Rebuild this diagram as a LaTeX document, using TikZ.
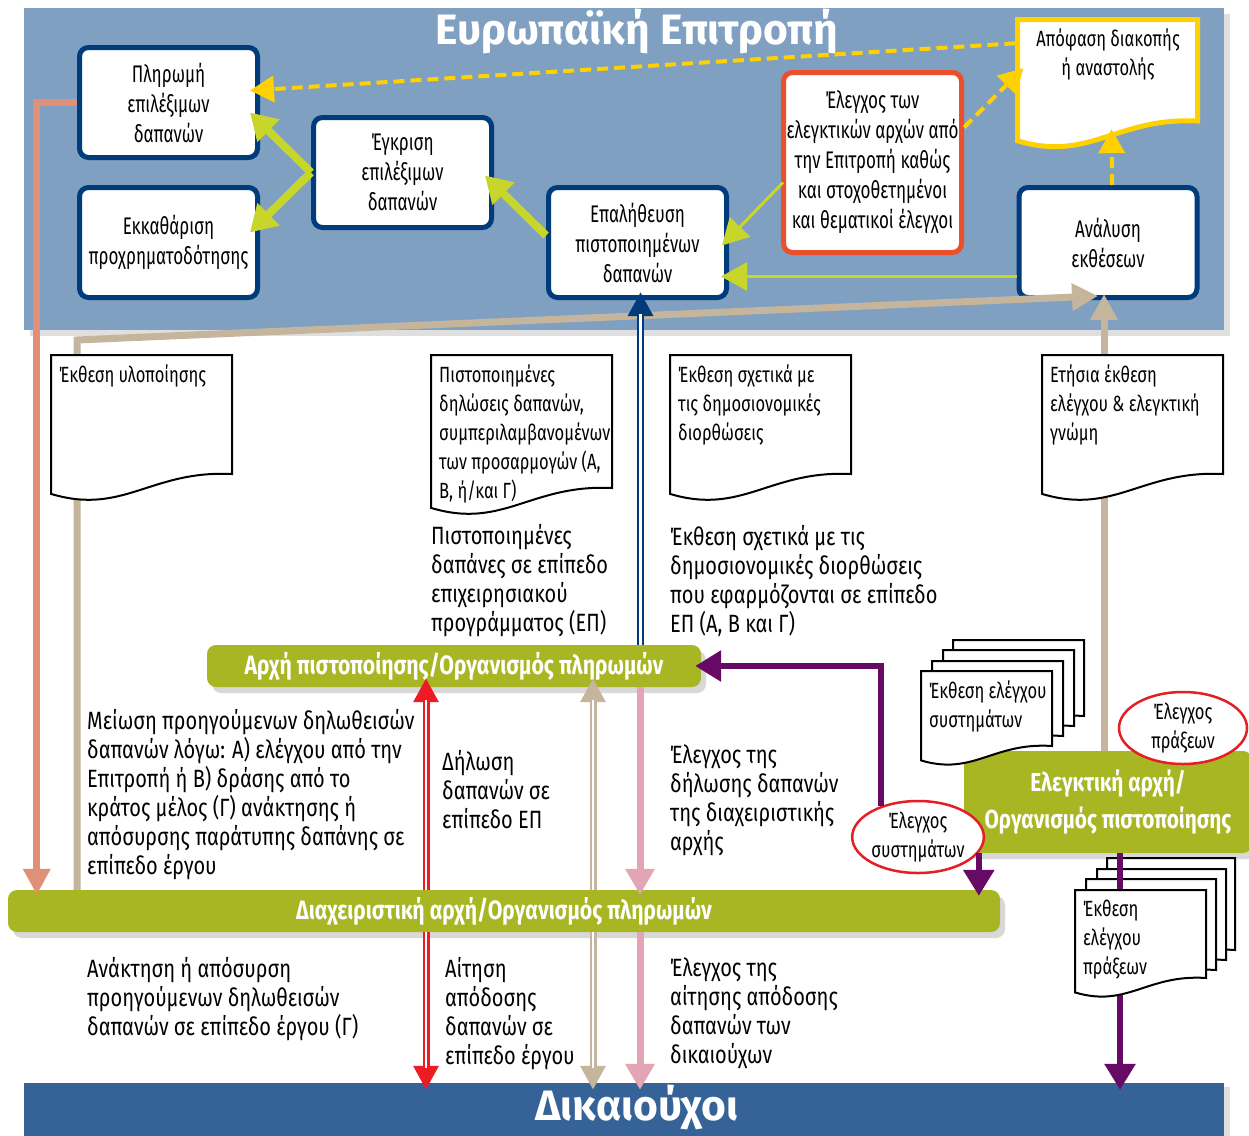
\documentclass[tikz,border=0pt]{standalone}
\usepackage{fontspec}
\setmainfont{Fira Sans}[FakeStretch=0.8]
\newfontfamily\headfont{Fira Sans}
\newfontfamily\boxface{Fira Sans}[FakeStretch=0.71]
\newfontfamily\docface{Fira Sans}[FakeStretch=0.75]
\usetikzlibrary{arrows.meta,shapes.geometric,shadows,calc}

\definecolor{panelblue}{RGB}{127,160,193}
\definecolor{boxnavy}{RGB}{0,59,123}
\definecolor{limegreen}{RGB}{200,214,43}
\definecolor{signyellow}{RGB}{255,209,0}
\definecolor{auditred}{RGB}{233,80,43}
\definecolor{sandtan}{RGB}{197,181,156}
\definecolor{salmon}{RGB}{224,144,120}
\definecolor{bargreen}{RGB}{169,182,36}
\definecolor{rosepink}{RGB}{227,165,182}
\definecolor{plum}{RGB}{102,10,102}
\definecolor{flagred}{RGB}{237,28,36}
\definecolor{benefblue}{RGB}{53,99,152}
\definecolor{ringred}{RGB}{227,30,36}

\newcommand{\boxfont}{\boxface\fontsize{24}{30}\selectfont}
\newcommand{\lblfont}{\fontsize{25}{29}\selectfont}
\newcommand{\docfont}{\docface\fontsize{22}{29}\selectfont}
\newcommand{\barfont}{\bfseries\fontsize{26.5}{30}\selectfont}
\newcommand{\bigbarfont}{\bfseries\fontsize{26}{37}\selectfont}
\newcommand{\headtitle}{\headfont\bfseries\fontsize{42.5}{46}\selectfont}

% sheet with a wavy lower edge: style, name, left, top, right, bottom, text
\newcommand{\docsheet}[7][docline]{%
  \draw[#1] (#3,#4) -- (#5,#4) -- (#5,#6)
    .. controls ({#5-0.45*(#5-#3)},{#6-4}) and ({#3+0.4*(#5-#3)},{#6+0.23*(#5-#3)})
    .. (#3,{#6+0.11*(#5-#3)}) -- cycle;
  \node[inner sep=0pt, minimum width={#5-#3}, minimum height={#6-#4}] (#2) at ({(#3+#5)/2},{(#4+#6)/2}) {};
  \node[doctext, anchor=north west] (#2-txt) at ({#3+8},{#4+10}) {#7};}

% arrow drawn as a double line: colour, from, to
\newcommand{\dblarrow}[3]{%
  \draw[draw=#1, line width=7pt, -{Triangle[length=24pt,width=24pt]}] #2 -- #3;
  \draw[white, line width=2.2pt, shorten >=22pt] #2 -- #3;}

\tikzset{
  stagebox/.style={draw=boxnavy, line width=5pt, fill=white, rounded corners=9pt,
    minimum width=178pt, minimum height=110pt, align=center, font=\boxfont, inner sep=2pt},
  docline/.style={draw=black, line width=2pt, fill=white},
  decline/.style={draw=signyellow, line width=5pt, fill=white},
  doctext/.style={align=left, font=\docfont, inner sep=0pt},
  flowlabel/.style={align=left, font=\lblfont, anchor=north west, inner sep=0pt},
  greenbar/.style={fill=bargreen, rounded corners=9pt, text=white, font=\barfont,
    drop shadow={shadow xshift=5pt, shadow yshift=-6pt, opacity=0.3}},
  checkring/.style={ellipse, draw=ringred, line width=2.5pt, fill=white,
    minimum width=128pt, minimum height=72pt, align=center, font=\docfont, inner sep=0pt},
  limearrow/.style={draw=limegreen, line width=8pt, -{Triangle[length=26pt,width=30pt]}},
  thinlime/.style={draw=limegreen, line width=3pt, -{Triangle[length=26pt,width=28pt]}},
  dashyellow/.style={draw=signyellow, line width=4pt, dash pattern=on 11pt off 6pt,
    -{Triangle[length=24pt,width=26pt]}},
  tanline/.style={draw=sandtan, line width=7pt, -{Triangle[length=26pt,width=26pt]}},
  salmonline/.style={draw=salmon, line width=7pt, -{Triangle[length=26pt,width=26pt]}},
  pinkline/.style={draw=rosepink, line width=7pt, -{Triangle[length=26pt,width=28pt]}},
  plumline/.style={draw=plum, line width=6pt, -{Triangle[length=26pt,width=30pt]}}
}

\begin{document}
\begin{tikzpicture}[x=1pt,y=-1pt]
  \useasboundingbox (0,0) rectangle (1249,1135);
  \fill[white] (0,0) rectangle (1249,1135);

  % Commission panel
  \node[fill=panelblue, inner sep=0pt, minimum width=1200pt, minimum height=322pt,
    drop shadow={shadow xshift=6pt, shadow yshift=-6pt, opacity=0.25}] (ec) at (624,169) {};
  \node[text=white, font=\headtitle] (ectitle) at (637,31) {Ευρωπαϊκή Επιτροπή};

  \node[stagebox] (pay) at (168.5,102.5) {Πληρωμή\\επιλέξιμων\\δαπανών};
  \node[stagebox] (clear) at (168.5,242.5) {Εκκαθάριση\\προχρηματοδότησης};
  \node[stagebox] (approve) at (402.5,172.5) {Έγκριση\\επιλέξιμων\\δαπανών};
  \node[stagebox] (verify) at (637.5,242.5) {Επαλήθευση\\πιστοποιημένων\\δαπανών};
  \node[stagebox, draw=auditred, minimum height=180pt] (ecaudit) at (872.5,162.5)
    {Έλεγχος των\\ελεγκτικών αρχών από\\την Επιτροπή καθώς\\και στοχοθετημένοι\\και θεματικοί έλεγχοι};
  \node[stagebox] (analysis) at (1108,242.5) {Ανάλυση\\εκθέσεων};

  \docsheet[decline]{decision}{1017.5}{19.5}{1197.5}{121}{}
  \node[align=center, font=\docfont, anchor=north] (decision-label) at (1108,25)
    {Απόφαση διακοπής\\ή αναστολής};

  \draw[limearrow] (approve.west) -- ($(pay.east)+(-10,10)$);
  \draw[limearrow] (approve.west) -- ($(clear.east)+(-10,-10)$);
  \draw[limearrow] ($(verify.west)+(0,-7)$) -- ($(approve.east)+(-9,3)$);
  \draw[thinlime] ($(ecaudit.west)+(2,20)$) -- ($(verify.east)+(-7,3)$);
  \draw[thinlime] ($(analysis.west)+(0,34)$) -- ($(verify.east)+(-8,34)$);

  \draw[dashyellow] ($(decision.north west)+(-2,24)$) -- ($(pay.east)+(-10,-12)$);
  \draw[dashyellow] ($(ecaudit.east)+(0,-35)$) -- ($(decision.west)+(6,-2)$);
  \draw[dashyellow] ($(analysis.north)+(4,0)$) -- ($(decision.south)+(4,8)$);

  % bars
  \node[greenbar, minimum width=494pt, minimum height=42pt] (cab) at (454,666)
    {Αρχή πιστοποίησης/Οργανισμός πληρωμών};
  \node[greenbar, minimum width=992pt, minimum height=42pt] (mab) at (504,911)
    {Διαχειριστική αρχή/Οργανισμός πληρωμών};
  \node[greenbar, minimum width=288pt, minimum height=102pt, align=center, font=\bigbarfont]
    (aab) at (1108,802) {Ελεγκτική αρχή/\\Οργανισμός πιστοποίησης};
  \node[fill=benefblue, inner sep=0pt, minimum width=1200pt, minimum height=54pt,
    drop shadow={shadow xshift=6pt, shadow yshift=-4pt, opacity=0.25}] (benef) at (624,1110) {};
  \node[text=white, font=\headtitle] (benef-label) at (637,1107) {Δικαιούχοι};

  % tan report lines
  \coordinate (tanbend) at (77,340);
  \draw[tanline] (mab.north -| tanbend) -- (tanbend) -- ($(analysis.south)+(-10,-4)$);
  \draw[tanline] ($(aab.north)+(-4,0)$) -- ($(analysis.south)+(-4,-6)$);
  \draw[salmonline] (pay.west) -| ($(mab.north west)+(29,5)$);

  % reports
  \docsheet{implrep}{51}{355}{232}{474}{Έκθεση υλοποίησης}
  \docsheet{certdecl}{431}{355}{612}{488}{Πιστοποιημένες\\δηλώσεις δαπανών,\\συμπεριλαμβανομένων\\των προσαρμογών (Α,\\Β, ή/και Γ)}
  \docsheet{correp}{670}{355}{851}{474}{Έκθεση σχετικά με\\τις δημοσιονομικές\\διορθώσεις}
  \docsheet{annual}{1042}{355}{1223}{474}{Ετήσια έκθεση\\ελέγχου \& ελεγκτική\\γνώμη}

  \docsheet{sysrep3}{953}{640}{1084}{716}{}
  \docsheet{sysrep2}{943}{650}{1074}{726}{}
  \docsheet{sysrep1}{932}{661}{1063}{736}{}
  \docsheet{sysrep}{921}{671}{1052}{746}{Έκθεση ελέγχου\\συστημάτων}

  % flows between the bars
  \coordinate (vx) at ($(verify.south)+(3,0)$);
  \dblarrow{boxnavy}{(cab.north -| vx)}{($(vx)+(0,-8)$)}
  \coordinate (redx) at (426,800);
  \dblarrow{flagred}{(mab.north -| redx)}{($(cab.south -| redx)+(0,-9)$)}
  \dblarrow{flagred}{(mab.south -| redx)}{($(benef.north -| redx)+(0,7)$)}
  \coordinate (tanx) at (593,800);
  \dblarrow{sandtan}{(mab.north -| tanx)}{($(cab.south -| tanx)+(0,-9)$)}
  \dblarrow{sandtan}{(mab.south -| tanx)}{($(benef.north -| tanx)+(0,7)$)}
  \coordinate (pinkx) at (640,800);
  \draw[pinkline] (cab.south -| pinkx) -- ($(mab.north -| pinkx)+(0,5)$);
  \draw[pinkline] (mab.south -| pinkx) -- ($(benef.north -| pinkx)+(0,7)$);

  \node[checkring] (syschk) at (918,837) {Έλεγχος\\συστημάτων};
  \node[checkring] (opchk) at (1183,728) {Έλεγχος\\πράξεων};
  \draw[plumline] (syschk.140) |- ($(cab.east)+(-6,0)$);
  \draw[plumline] ($(aab.south west)+(15,0)$) coordinate (pdx) -- ($(pdx |- mab.north)+(0,6)$);

  \docsheet{oprep3}{1107}{858}{1235}{950}{}
  \docsheet{oprep2}{1097}{869}{1226}{960}{}
  \docsheet{oprep1}{1086}{879}{1216}{970}{}
  \draw[plumline] ($(aab.south)+(12,0)$) coordinate (prx) -- ($(prx |- benef.north)+(0,7)$);
  \docsheet{oprep}{1075}{890}{1206}{978}{Έκθεση\\ελέγχου\\πράξεων}

  % texts
  \node[flowlabel] (lbl-certexp) at (431,524) {Πιστοποιημένες\\δαπάνες σε επίπεδο\\επιχειρησιακού\\προγράμματος (ΕΠ)};
  \node[flowlabel] (lbl-correxp) at (670,525) {Έκθεση σχετικά με τις\\δημοσιονομικές διορθώσεις\\που εφαρμόζονται σε επίπεδο\\ΕΠ (Α, Β και Γ)};
  \node[flowlabel] (lbl-reduce) at (87,709) {Μείωση προηγούμενων δηλωθεισών\\δαπανών λόγω: Α) ελέγχου από την\\Επιτροπή ή Β) δράσης από το\\κράτος μέλος (Γ) ανάκτησης ή\\απόσυρσης παράτυπης δαπάνης σε\\επίπεδο έργου};
  \node[flowlabel] (lbl-declare) at (442,750) {Δήλωση\\δαπανών σε\\επίπεδο ΕΠ};
  \node[flowlabel] (lbl-mgcheck) at (670,744) {Έλεγχος της\\δήλωσης δαπανών\\της διαχειριστικής\\αρχής};
  \node[flowlabel] (lbl-recover) at (87,957) {Ανάκτηση ή απόσυρση\\προηγούμενων δηλωθεισών\\δαπανών σε επίπεδο έργου (Γ)};
  \node[flowlabel] (lbl-claim) at (445,957) {Αίτηση\\απόδοσης\\δαπανών σε\\επίπεδο έργου};
  \node[flowlabel] (lbl-claimchk) at (670,957) {Έλεγχος της\\αίτησης απόδοσης\\δαπανών των\\δικαιούχων};
\end{tikzpicture}
\end{document}
